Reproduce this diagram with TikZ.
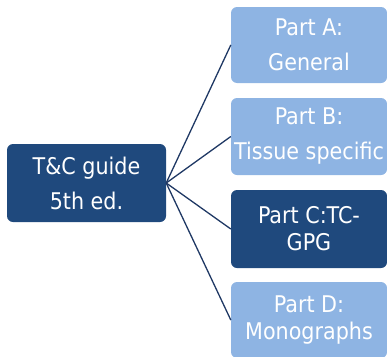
\documentclass[tikz,border=0pt]{standalone}
\usepackage{fontspec}
\setmainfont{DejaVu Sans Condensed}
\definecolor{navy}{HTML}{1F497D}
\definecolor{sky}{HTML}{8EB4E3}
\definecolor{linkcol}{HTML}{1F3864}
\begin{document}
\begin{tikzpicture}[x=1pt,y=1pt,
  box/.style={rounded corners=6pt, inner sep=0pt, align=center, text=white,
    minimum width=156pt},
  darkbox/.style={box, fill=navy},
  lightbox/.style={box, fill=sky},
  wide/.style={font=\fontsize{23}{35}\selectfont},
  tight/.style={font=\fontsize{23}{27}\selectfont},
  link/.style={draw=linkcol, line width=1.3pt}]
\useasboundingbox (0,0) rectangle (387,-356);
\node[darkbox, wide, minimum width=159pt, minimum height=78pt] (root) at (86.5,-183) {T\&C guide\\5th ed.};
\node[lightbox, wide, minimum height=76pt] (pa) at (309,-45) {Part A:\\General};
\node[lightbox, wide, minimum height=77pt] (pb) at (309,-136.5) {Part B:\\Tissue specific};
\node[darkbox, tight, minimum height=78pt] (pc) at (309,-229) {Part C:TC-\\GPG};
\node[lightbox, tight, minimum height=76pt] (pd) at (309,-320) {Part D:\\Monographs};
\foreach \t in {pa,pb,pc,pd}
  \draw[link] (root.east) -- (\t.west);
\end{tikzpicture}
\end{document}
